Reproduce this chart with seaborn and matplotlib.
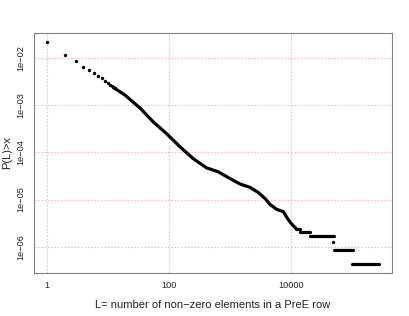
import matplotlib
matplotlib.use("Agg")
import matplotlib.pyplot as plt
import seaborn as sns
import pandas as pd

# first discrete values of L (drawn as separate dots)
head_L = [1, 2, 3, 4, 5, 6, 7, 8, 9, 10, 11, 12, 13]
head_P = [0.0222, 0.0119, 0.00863, 0.00661, 0.00575, 0.00490, 0.00417,
          0.00372, 0.00331, 0.00302, 0.00275, 0.00250, 0.00228]

# dense part of the curve
curve_L = [12, 13, 19, 34, 55, 91, 151, 248, 411, 631, 989, 1445, 2089,
           2884, 3715, 4467, 5754, 7413, 8318, 9550, 10715, 12000]
curve_P = [0.00250, 0.00228, 0.00166, 0.000863, 0.000447, 0.000251,
           0.000132, 7.4e-5, 4.7e-5, 3.9e-5, 2.8e-5, 2.14e-5, 1.82e-5,
           1.41e-5, 1.05e-5, 7.9e-6, 6.2e-6, 5.5e-6, 4.3e-6, 3.3e-6,
           2.8e-6, 2.4e-6]

# flat tail (few rows left)
step_P = [2.4e-6, 2.04e-6, 1.7e-6, 8.3e-7, 4.2e-7]
step_start = [12000, 13800, 20000, 50100, 97700]
step_end = [13800, 20400, 50100, 102000, 269000]
lone_L = [47900]
lone_P = [1.23e-6]

x_ticks = [1, 100, 10000]
x_labels = ["1", "100", "10000"]
y_ticks = [1e-2, 1e-3, 1e-4, 1e-5, 1e-6]
y_labels = ["1e\u221202", "1e\u221203", "1e\u221204", "1e\u221205", "1e\u221206"]

sns.set_style("white")
plt.rcParams["font.family"] = ["Liberation Sans", "DejaVu Sans"]

fig = plt.figure(figsize=(4.09, 3.16), dpi=100)
ax = fig.add_axes([0.083, 0.136, 0.875, 0.760])

head = pd.DataFrame({"L": head_L, "P": head_P})
curve = pd.DataFrame({"L": curve_L, "P": curve_P})

sns.lineplot(data=curve, x="L", y="P", ax=ax, color="black", lw=2.3,
             sort=False, estimator=None)
sns.scatterplot(data=head, x="L", y="P", ax=ax, color="black", s=6,
                linewidth=0)
sns.scatterplot(x=lone_L, y=lone_P, ax=ax, color="black", s=6, linewidth=0)
ax.hlines(step_P, step_start, step_end, color="black", lw=2.3,
          capstyle="round")

ax.set_xscale("log")
ax.set_yscale("log")
ax.set_xlim(10 ** -0.2075, 10 ** 5.642)
ax.set_ylim(10 ** -6.56, 10 ** -1.462)
ax.minorticks_off()
ax.set_xticks(x_ticks)
ax.set_xticklabels(x_labels)
ax.set_yticks(y_ticks)
ax.set_yticklabels(y_labels, rotation=90, va="center")

for s in ax.spines.values():
    s.set_color("#808080")
    s.set_linewidth(0.8)
ax.tick_params(length=3, width=0.6, color="#aaaaaa", labelsize=6.6,
               pad=3, labelcolor="#222222")
ax.grid(True, which="major", axis="both", color="#ffb6c2",
        linestyle=(0, (1.5, 1.5)), lw=0.8)
ax.set_axisbelow(True)

ax.set_xlabel("L= number of non\u2212zero elements in a PreE row",
              fontsize=8, color="#222222", labelpad=7)
ax.set_ylabel("P(L)>x", fontsize=8, color="#222222", labelpad=3)

fig.savefig("out.png", dpi=100)
